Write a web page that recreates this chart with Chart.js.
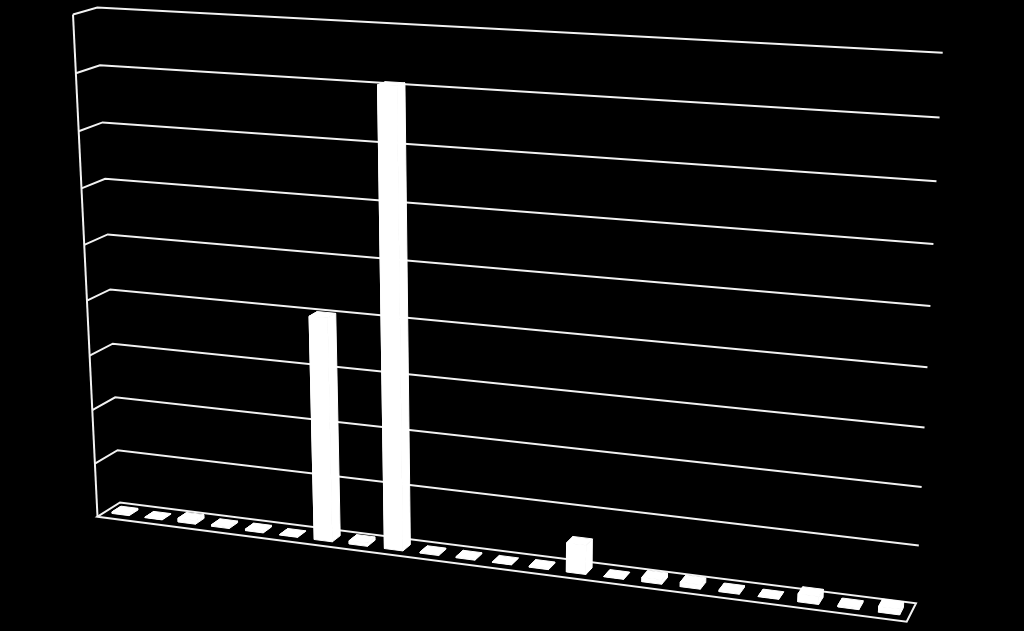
<!DOCTYPE html>
<html><head><meta charset="utf-8">
<style>html,body{margin:0;padding:0;background:#000;overflow:hidden}canvas{display:block}</style>
<script src="https://cdn.jsdelivr.net/npm/chart.js@4"></script></head>
<body><canvas id="c" width="1024" height="631"></canvas>
<script>
const categories = ["1","2","3","4","5","6","7","8","9","10","11","12","13","14","15","16","17","18","19","20","21","22"];
const seriesValues = [0.03,0.01,0.07,0.03,0.03,0.01,4.03,0.06,8.07,0.02,0.02,0.01,0.02,0.52,0.01,0.08,0.08,0.03,0.01,0.14,0.03,0.1];
const gridTop = 9;
const LINE = '#f2f2f2', FILL = '#ffffff';

// Perspective frame of the 3D box (unit-square to quad homographies)
function homography(p00,p10,p11,p01){
  const dx1=p10[0]-p11[0],dx2=p01[0]-p11[0],sx=p00[0]-p10[0]+p11[0]-p01[0];
  const dy1=p10[1]-p11[1],dy2=p01[1]-p11[1],sy=p00[1]-p10[1]+p11[1]-p01[1];
  const d=dx1*dy2-dx2*dy1, g=(sx*dy2-dx2*sy)/d, h=(dx1*sy-sx*dy1)/d;
  const a=p10[0]-p00[0]+g*p10[0], b=p01[0]-p00[0]+h*p01[0], c=p00[0];
  const e=p10[1]-p00[1]+g*p10[1], f=p01[1]-p00[1]+h*p01[1], i=p00[1];
  return (u,t)=>{const w=g*u+h*t+1;return [(a*u+b*t+c)/w,(e*u+f*t+i)/w];};
}
const frontPlane = homography([97.5,516.7],[906.7,621.7],[933.5,60],[73,14.5]);
const backPlane  = homography([120,502.5],[916,603.3],[942.7,52.7],[97.3,7.5]);
function project(u,t,d){
  const a=frontPlane(u,t),b=backPlane(u,t);
  return [a[0]+(b[0]-a[0])*d,a[1]+(b[1]-a[1])*d];
}
function poly(ctx,pts){ctx.beginPath();pts.forEach((p,i)=>i?ctx.lineTo(p[0],p[1]):ctx.moveTo(p[0],p[1]));ctx.closePath();}

let area=null;
const DEPTH0=0.3, DEPTH1=0.7;
Chart.BarElement.prototype.draw = function(ctx){
  const ca=area, W=ca.right-ca.left, H=ca.bottom-ca.top;
  const u0=(this.x-this.width/2-ca.left)/W, u1=(this.x+this.width/2-ca.left)/W;
  const t0=(ca.bottom-this.base)/H, t1=(ca.bottom-this.y)/H;
  const P=project;
  const faces=[
    [P(u0,t0,DEPTH0),P(u1,t0,DEPTH0),P(u1,t1,DEPTH0),P(u0,t1,DEPTH0)],
    [P(u1,t0,DEPTH0),P(u1,t0,DEPTH1),P(u1,t1,DEPTH1),P(u1,t1,DEPTH0)],
    [P(u0,t0,DEPTH0),P(u0,t0,DEPTH1),P(u0,t1,DEPTH1),P(u0,t1,DEPTH0)],
    [P(u0,t1,DEPTH0),P(u1,t1,DEPTH0),P(u1,t1,DEPTH1),P(u0,t1,DEPTH1)]
  ];
  ctx.save();
  ctx.fillStyle=this.options.backgroundColor;
  ctx.strokeStyle=this.options.backgroundColor;
  ctx.lineWidth=1;ctx.lineJoin='round';
  faces.forEach(f=>{poly(ctx,f);ctx.fill();ctx.stroke();});
  ctx.restore();
};

const boxFrame={
  id:'boxFrame',
  beforeDatasetsDraw(chart){
    area=chart.chartArea;
    const ctx=chart.ctx, y=chart.scales.y, ca=chart.chartArea, H=ca.bottom-ca.top;
    const seg=pts=>{ctx.beginPath();pts.forEach((p,i)=>i?ctx.lineTo(p[0],p[1]):ctx.moveTo(p[0],p[1]));ctx.stroke();};
    ctx.save();
    ctx.strokeStyle=LINE;ctx.lineWidth=2;ctx.lineJoin='miter';
    y.ticks.forEach(tk=>{
      const t=(ca.bottom-y.getPixelForValue(tk.value))/H;
      if(tk.value===0) return;
      seg([project(0,t,0),project(0,t,1),project(1,t,1)]);
    });
    seg([project(0,0,0),project(0,1,0)]);
    poly(ctx,[project(0,0,0),project(1,0,0),project(1,0,1),project(0,0,1)]);ctx.stroke();
    ctx.restore();
  }
};

new Chart(document.getElementById('c'),{
  type:'bar',
  data:{labels:categories,datasets:[{data:seriesValues,backgroundColor:FILL,barPercentage:0.52,categoryPercentage:1,clip:false}]},
  options:{
    responsive:false,animation:false,devicePixelRatio:1,
    layout:{padding:0},
    plugins:{legend:{display:false},tooltip:{enabled:false},title:{display:false}},
    scales:{
      x:{display:false,offset:true,grid:{display:false}},
      y:{display:false,min:0,max:gridTop,ticks:{stepSize:1},grid:{display:false}}
    }
  },
  plugins:[boxFrame]
});
</script></body></html>
